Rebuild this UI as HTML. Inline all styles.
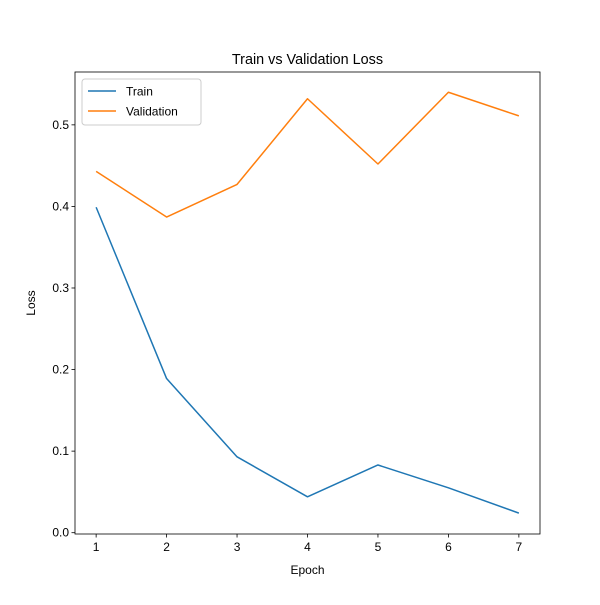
<!DOCTYPE html>
<html><head><meta charset="utf-8"><style>
body{margin:0;background:#fff;}
text{font-family:"Liberation Sans","DejaVu Sans",sans-serif;fill:#000;}
</style></head><body>
<svg id="chart" width="600" height="600" xmlns="http://www.w3.org/2000/svg">
<rect width="600" height="600" fill="#fff"/>
<g id="plot"></g>
</svg>
<script>
const epochs=[1,2,3,4,5,6,7];
const trainLoss=[0.399,0.189,0.093,0.044,0.083,0.055,0.024];
const valLoss=[0.443,0.387,0.427,0.532,0.452,0.540,0.511];
const yTicks=[0.0,0.1,0.2,0.3,0.4,0.5];
const xTicks=[1,2,3,4,5,6,7];
const L=75,R=540,T=72,B=534;
const xmin=0.7,xmax=7.3,ymin=-0.0016,ymax=0.5648;
const sx=v=>L+(v-xmin)/(xmax-xmin)*(R-L);
const sy=v=>B-(v-ymin)/(ymax-ymin)*(B-T);
const NS="http://www.w3.org/2000/svg";
const g=document.getElementById('plot');
function mk(tag,attrs,parent){const e=document.createElementNS(NS,tag);for(const k in attrs)e.setAttribute(k,attrs[k]);(parent||g).appendChild(e);return e;}
// series
function series(vals,color,name){
  const p=mk('polyline',{points:epochs.map((x,i)=>sx(x)+','+sy(vals[i])).join(' '),fill:'none',stroke:color,'stroke-width':1.5,'stroke-linejoin':'round'});
  
  
}
series(trainLoss,'#1f77b4','train-line');
series(valLoss,'#ff7f0e','validation-line');
// frame
const fr=mk('rect',{x:L,y:T,width:R-L,height:B-T,fill:'none',stroke:'#000','stroke-width':0.8});


xTicks.forEach(v=>{
  mk('line',{x1:sx(v),x2:sx(v),y1:B,y2:B+3.5,stroke:'#000','stroke-width':0.8});
  const t=mk('text',{x:sx(v),y:B+17,'text-anchor':'middle','font-size':12});t.textContent=v;
  
  
});
yTicks.forEach(v=>{
  mk('line',{x1:L-3.5,x2:L,y1:sy(v),y2:sy(v),stroke:'#000','stroke-width':0.8});
  const t=mk('text',{x:L-6,y:sy(v)+4,'text-anchor':'end','font-size':12});t.textContent=v.toFixed(1);
  
  
});
const title=mk('text',{x:(L+R)/2,y:64,'text-anchor':'middle','font-size':14.4});title.textContent='Train vs Validation Loss';


const xl=mk('text',{x:(L+R)/2,y:574,'text-anchor':'middle','font-size':12});xl.textContent='Epoch';


const yl=mk('text',{x:35,y:(T+B)/2,'text-anchor':'middle','font-size':12,transform:'rotate(-90 35 '+(T+B)/2+')'});yl.textContent='Loss';


// legend
const lg=mk('g',{});


mk('rect',{x:82,y:79,width:119,height:46,rx:3,fill:'#fff','fill-opacity':0.8,stroke:'#ccc','stroke-width':1},lg);
[['Train','#1f77b4',91],['Validation','#ff7f0e',111]].forEach(([n,c,y])=>{
  mk('line',{x1:88,x2:116,y1:y,y2:y,stroke:c,'stroke-width':1.5},lg);
  const t=mk('text',{x:126,y:y+4.5,'font-size':12},lg);t.textContent=n;
  
  
});
</script>
</body></html>
